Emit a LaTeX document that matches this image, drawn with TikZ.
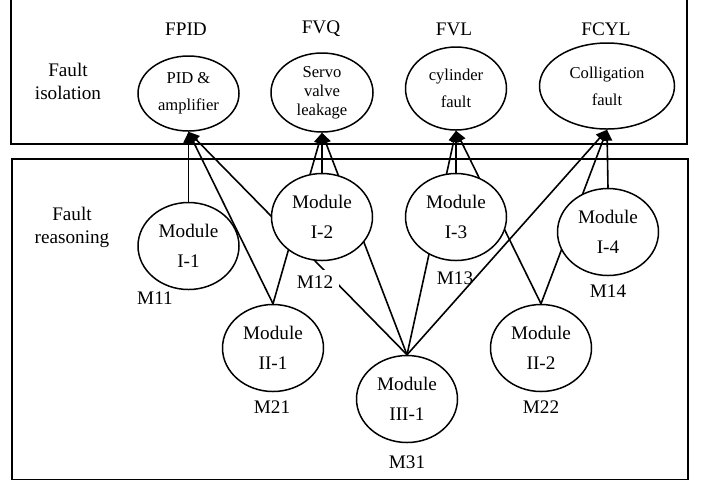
\documentclass[tikz,border=0pt]{standalone}
\usepackage{fontspec}
\setmainfont{Liberation Serif}
\usetikzlibrary{shapes.geometric,arrows.meta,positioning,backgrounds}
\tikzset{
  fault/.style={ellipse, draw, fill=white, line width=0.75pt,
    inner sep=0pt, align=center,
    font=\fontsize{8.3}{13.5}\selectfont},
  module/.style={ellipse, draw, fill=white, line width=0.75pt,
    inner sep=0pt, align=center,
    minimum width=50.5pt, minimum height=43.5pt,
    font=\fontsize{9.6}{15}\selectfont},
  tag/.style={font=\fontsize{9.6}{11.5}\selectfont, inner sep=1pt},
  side/.style={align=center, font=\fontsize{9.6}{11.5}\selectfont},
  arr/.style={-{Triangle[length=5.5pt,width=5pt]}, line width=0.8pt},
  panel/.style={draw, line width=0.75pt}
}
\begin{document}
\begin{tikzpicture}[x=0.5pt, y=-0.5pt]
\useasboundingbox (0,0) rectangle (702,479);

%% fault isolation layer
\node[side] (isol) at (68,81) {Fault\\isolation};
\node[fault, minimum width=50.5pt, minimum height=37.5pt] (fpid) at (188.5,93.5) {PID \&\\amplifier};
\node[fault, minimum width=51pt, minimum height=39.5pt,
  font=\fontsize{8.3}{9.5}\selectfont] (fvq) at (322,92.5) {Servo\\valve\\leakage};
\node[fault, minimum width=50.5pt, minimum height=41.5pt] (fvl) at (456,88.5) {cylinder\\fault};
\node[fault, minimum width=67.5pt, minimum height=43pt] (fcyl) at (607,86) {Colligation\\fault};
\node[tag] (tpid) at (186,29) {FPID};
\node[tag] (tvq)  at (321,29) {FVQ};
\node[tag] (tvl)  at (454,29) {FVL};
\node[tag] (tcyl) at (606,29) {FCYL};

%% fault reasoning layer
\node[side] (reas) at (72,227) {Fault\\reasoning};
\node[module] (m11) at (188.5,246) {Module\\I-1};
\node[module] (m12) at (322,217) {Module\\I-2};
\node[module] (m13) at (456,217) {Module\\I-3};
\node[module] (m14) at (608,232) {Module\\I-4};
\node[module] (m21) at (273,348) {Module\\II-1};
\node[module] (m22) at (541,348) {Module\\II-2};
\node[module] (m31) at (407,399) {Module\\III-1};
\node[tag] (l11) at (155,298) {M11};
\node[tag, fill=white, inner sep=3pt] (l12) at (315,282) {M12};
\node[tag] (l13) at (455,278) {M13};
\node[tag] (l14) at (608,291) {M14};
\node[tag] (l21) at (272,407) {M21};
\node[tag] (l22) at (541,407) {M22};
\node[tag] (l31) at (407,462) {M31};

\begin{scope}[on background layer]
\draw[panel] (11,-4) rectangle (687,144);
\draw[panel] (12,159) rectangle (688,479.6);
%% links
\foreach \m/\f in {m11/fpid, m21/fpid, m31/fpid,
                   m12/fvq, m21/fvq, m31/fvq,
                   m13/fvl, m22/fvl, m31/fvl,
                   m14/fcyl, m22/fcyl, m31/fcyl}
  \draw[arr] (\m.north) -- (\f.south);
\end{scope}

\end{tikzpicture}
\end{document}
